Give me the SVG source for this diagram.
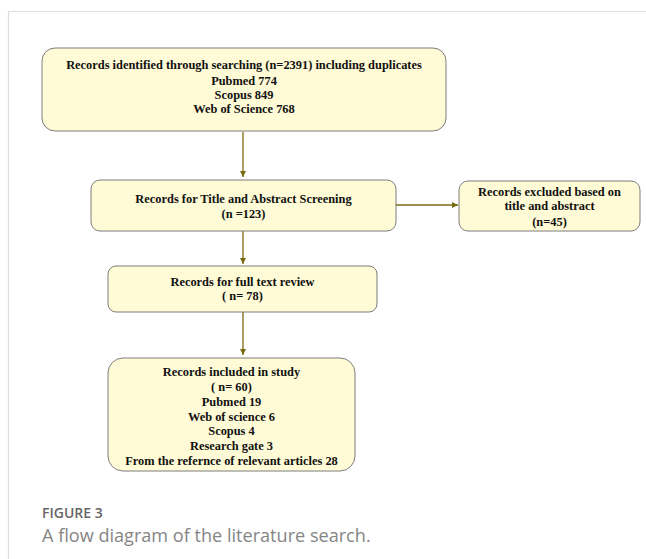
<svg xmlns="http://www.w3.org/2000/svg" width="646" height="559" viewBox="0 0 646 559">
<style>
.box{fill:#fffbd6;stroke:#7d7d7d;stroke-width:1}
.t{font-family:"Liberation Serif","Times New Roman",serif;font-weight:bold;font-size:12.4px;fill:#111;text-anchor:middle}
.c{stroke:#7a6a12;stroke-width:1.3;fill:none}
.cap1{font-family:"Open Sans",sans-serif;font-size:14px;fill:#666;font-weight:600}
.cap2{font-family:"Open Sans",sans-serif;font-size:18.1px;fill:#858585;font-weight:400}
</style>
<defs>
<marker id="ah" viewBox="0 0 10 10" refX="10" refY="5" markerWidth="6" markerHeight="6" orient="auto" markerUnits="userSpaceOnUse">
<path d="M0,0 L10,5 L0,10 z" fill="#7a6a12"/>
</marker>
</defs>
<rect width="646" height="559" fill="#fff"/>
<path d="M8.5,559 V11.5 H646" fill="none" stroke="#dddddd" stroke-width="1.2"/>
<g id="connectors">
<line class="c" x1="243" y1="132" x2="243" y2="177" marker-end="url(#ah)"/>
<line class="c" x1="243" y1="231" x2="243" y2="264" marker-end="url(#ah)"/>
<line class="c" x1="243" y1="312" x2="243" y2="355" marker-end="url(#ah)"/>
<line class="c" x1="396" y1="205" x2="458" y2="205" marker-end="url(#ah)"/>
</g>
<g id="n1">
<rect class="box" x="42" y="48" width="404" height="83" rx="13"/>
<text class="t" x="244" y="69">Records identified through searching (n=2391) including duplicates</text>
<text class="t" x="244" y="85">Pubmed 774</text>
<text class="t" x="244" y="99">Scopus 849</text>
<text class="t" x="244" y="113">Web of Science 768</text>
</g>
<g id="n2">
<rect class="box" x="91" y="180" width="305" height="51" rx="9"/>
<text class="t" x="243.5" y="203">Records for Title and Abstract Screening</text>
<text class="t" x="243.5" y="218">(n =123)</text>
</g>
<g id="n3">
<rect class="box" x="459" y="181" width="181" height="50" rx="9"/>
<text class="t" x="549.5" y="196">Records excluded based on</text>
<text class="t" x="549.5" y="210">title and abstract</text>
<text class="t" x="549.5" y="226">(n=45)</text>
</g>
<g id="n4">
<rect class="box" x="108" y="266" width="269" height="46" rx="8"/>
<text class="t" x="242.5" y="286">Records for full text review</text>
<text class="t" x="242.5" y="300">( n= 78)</text>
</g>
<g id="n5">
<rect class="box" x="108" y="358" width="247" height="113" rx="15"/>
<text class="t" x="231.5" y="376">Records included in study</text>
<text class="t" x="231.5" y="391">( n= 60)</text>
<text class="t" x="231.5" y="406">Pubmed 19</text>
<text class="t" x="231.5" y="421">Web of science 6</text>
<text class="t" x="231.5" y="435">Scopus 4</text>
<text class="t" x="231.5" y="450">Research gate 3</text>
<text class="t" x="231.5" y="465">From the refernce of relevant articles 28</text>
</g>
<text class="cap1" x="42" y="518">FIGURE 3</text>
<text class="cap2" x="42" y="542">A flow diagram of the literature search.</text>
</svg>
